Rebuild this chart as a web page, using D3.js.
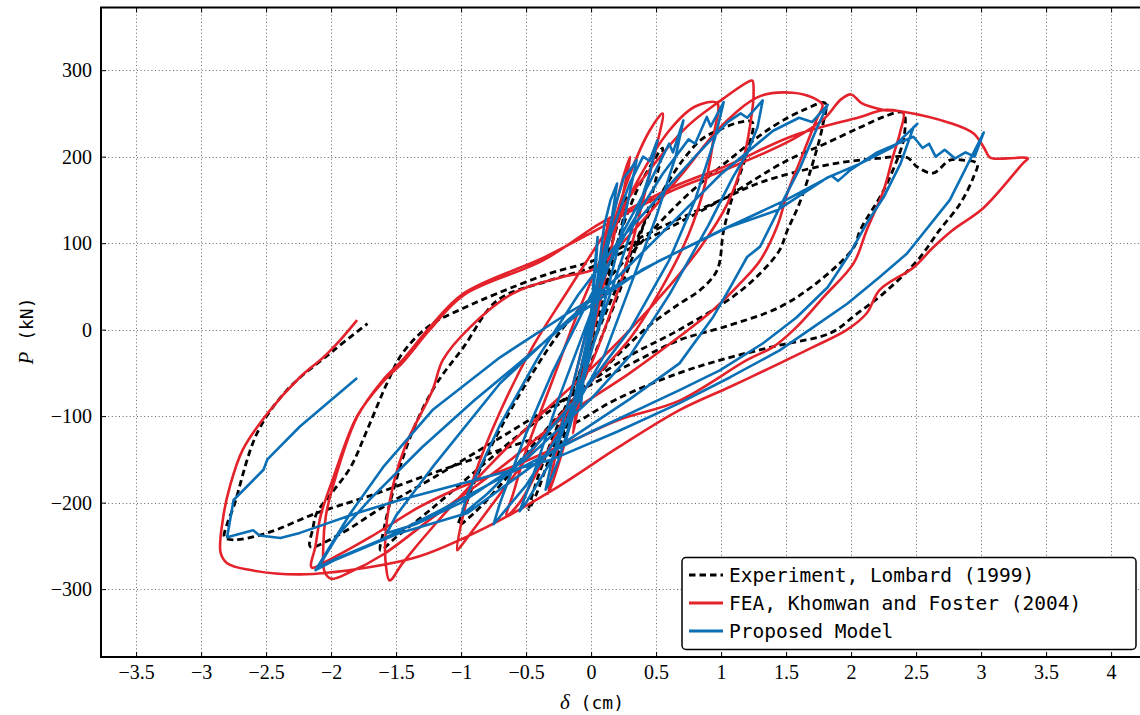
<!DOCTYPE html>
<html><head><meta charset="utf-8">
<script src="https://cdn.jsdelivr.net/npm/d3@7"></script>
<style>
html,body{margin:0;padding:0;background:#fff;overflow:hidden}
svg{display:block}
</style></head><body>
<svg id="chart" width="1140" height="715"></svg>
<script>
const xTicks = [-3.5,-3,-2.5,-2,-1.5,-1,-0.5,0,0.5,1,1.5,2,2.5,3,3.5,4];
const yTicks = [-300,-200,-100,0,100,200,300];
const seriesNames = ["Experiment, Lombard (1999)","FEA, Khomwan and Foster (2004)","Proposed Model"];

const experiment = [
[0,0],[0.05,35],[0.1,70],[0.13,95],[0.08,55],[0,5],[-0.06,-40],[-0.12,-80],[-0.08,-50],[0,0],
[0.1,65],[0.2,120],[0.28,155],[0.22,110],[0.12,50],[0,-15],[-0.12,-80],[-0.22,-130],[-0.26,-150],[-0.2,-110],[-0.08,-45],[0.05,25],[0.2,100],
[0.35,160],[0.48,195],[0.55,210],[0.5,175],[0.38,110],[0.22,45],[0.05,-20],[-0.12,-80],[-0.3,-140],[-0.42,-190],[-0.48,-208],[-0.44,-185],[-0.36,-150],[-0.2,-90],[0,-20],[0.2,50],[0.4,120],[0.55,160],[0.7,195],[0.85,220],[1.0,232],[1.15,240],[1.24,240],
[1.2,205],[1.1,160],[1.02,115],[0.97,69],[0.84,46],[0.68,30],[0.45,5],[0.2,-30],[-0.1,-75],[-0.4,-125],[-0.7,-180],[-0.9,-212],[-1.02,-226],[-0.97,-205],[-0.88,-170],[-0.7,-115],[-0.45,-50],[-0.2,5],[0.05,45],[0.35,95],[0.7,150],[1.05,195],[1.4,235],[1.65,255],[1.8,262],
[1.78,235],[1.7,190],[1.6,145],[1.51,115],[1.45,92],[1.3,65],[1.09,38],[0.68,0],[0.3,-30],[-0.1,-70],[-0.5,-115],[-0.9,-165],[-1.25,-210],[-1.5,-240],[-1.62,-255],[-1.6,-235],[-1.52,-185],[-1.38,-120],[-1.2,-65],[-0.98,-20],[-0.72,34],[-0.32,57],[0,72],[0.5,110],[1.0,150],[1.5,195],[1.8,215],[2.07,234],[2.25,246],[2.4,251],
[2.41,225],[2.38,207],[2.25,161],[2.07,115],[2.02,95],[1.76,57],[1.45,26],[1.02,3],[0.68,-12],[0.3,-40],[-0.2,-80],[-0.7,-125],[-1.2,-170],[-1.6,-205],[-1.95,-238],[-2.16,-251],[-2.14,-230],[-2.11,-212],[-1.98,-186],[-1.85,-159],[-1.72,-115],[-1.57,-62],[-1.45,-27],[-1.24,5],[-0.98,25],[-0.72,42],[-0.32,65],[0.02,80],[0.53,118],[1.0,150],[1.3,170],[1.8,190],[2.2,198],[2.43,199],[2.51,188],[2.63,181],[2.76,196],[2.86,196],[2.97,192],
[2.94,176],[2.84,146],[2.68,115],[2.51,80],[2.25,42],[2.05,19],[1.84,-4],[1.45,-18],[1.07,-32],[0.68,-50],[0.2,-80],[-0.18,-112],[-0.7,-139],[-1.22,-166],[-1.72,-193],[-2.11,-212],[-2.49,-235],[-2.75,-243],[-2.82,-240],[-2.8,-225],[-2.75,-205],[-2.57,-120],[-2.34,-70],[-1.98,-24],[-1.72,7]
];

const fea = [
[0,0],[0.05,50],[0.1,100],[0.14,130],[0.1,90],[0.02,20],[-0.05,-40],[-0.1,-90],[-0.14,-120],[-0.1,-80],[0,0],
[0.1,80],[0.2,150],[0.3,200],[0.25,160],[0.15,90],[0.05,20],[-0.08,-60],[-0.2,-130],[-0.33,-190],[-0.28,-150],[-0.15,-70],[0,20],[0.15,110],[0.3,180],[0.45,230],[0.55,250],
[0.5,210],[0.4,150],[0.28,80],[0.15,20],[0,-40],[-0.2,-100],[-0.4,-160],[-0.55,-200],[-0.65,-215],[-0.6,-190],[-0.5,-140],[-0.3,-60],[-0.1,20],[0.1,90],[0.35,170],[0.6,230],[0.8,258],[0.97,262],
[0.95,230],[0.88,170],[0.75,110],[0.55,50],[0.3,-10],[0,-60],[-0.3,-110],[-0.6,-170],[-0.85,-220],[-1.0,-250],[-1.03,-255],[-1.0,-225],[-0.9,-170],[-0.7,-95],[-0.45,-20],[-0.2,40],[0.1,110],[0.4,175],[0.74,235],[0.97,262],[1.2,286],[1.24,288],
[1.25,273],[1.24,254],[1.17,196],[1.05,146],[0.84,95],[0.6,50],[0.3,0],[0,-45],[-0.4,-100],[-0.8,-160],[-1.2,-225],[-1.45,-270],[-1.55,-290],[-1.58,-270],[-1.58,-235],[-1.52,-178],[-1.42,-131],[-1.22,-70],[-1.14,-35],[-0.93,3],[-0.6,42],[-0.22,61],[0.02,70],[0.3,110],[0.7,180],[1.0,235],[1.3,270],[1.55,274],[1.71,268],[1.78,260],
[1.74,245],[1.71,234],[1.61,196],[1.51,158],[1.43,119],[1.3,80],[1.15,54],[0.94,23],[0.68,-8],[0.3,-50],[-0.2,-100],[-0.7,-160],[-1.2,-215],[-1.6,-260],[-1.85,-280],[-2.0,-288],[-2.05,-280],[-2.06,-250],[-2.04,-215],[-1.98,-178],[-1.8,-101],[-1.6,-58],[-1.45,-35],[-1.24,3],[-0.98,42],[-0.37,83],[0.0,112],[0.28,135],[0.66,163],[1.05,186],[1.55,220],[1.8,245],[1.92,266],[2.0,272],[2.08,262],[2.25,254],[2.4,251],
[2.38,230],[2.32,199],[2.25,161],[2.12,115],[2.02,77],[1.79,38],[1.58,3],[1.4,-20],[1.2,-35],[0.68,-82],[0.22,-104],[-0.08,-124],[-0.55,-155],[-1.06,-186],[-1.32,-205],[-1.7,-240],[-2.0,-265],[-2.15,-275],[-2.12,-250],[-2.08,-215],[-1.98,-170],[-1.8,-100],[-1.6,-60],[-1.45,-38],[-1.24,0],[-0.98,40],[-0.37,80],[0.07,123],[0.3,140],[0.66,167],[1.05,190],[1.55,224],[2.07,246],[2.25,254],[2.4,252],[2.76,239],[2.94,227],[3.02,211],[3.07,199],[3.2,198],[3.32,199],[3.36,198],
[3.32,192],[3.02,141],[2.78,115],[2.63,95],[2.48,72],[2.22,46],[2.12,19],[1.97,0],[1.71,-20],[1.45,-39],[1.07,-66],[0.68,-93],[0.22,-135],[-0.29,-185],[-0.8,-228],[-1.32,-262],[-1.72,-275],[-2.24,-283],[-2.62,-278],[-2.8,-270],[-2.85,-258],[-2.83,-217],[-2.78,-182],[-2.68,-139],[-2.49,-97],[-2.24,-55],[-2.06,-32],[-1.93,-12],[-1.8,11]
];

const proposed = [
[0,0],[0.02,60],[0.05,107],[0.04,80],[0.0,20],[-0.05,-40],[-0.08,-90],[-0.06,-60],[0,0],
[0.05,60],[0.1,120],[0.15,150],[0.2,169],[0.17,140],[0.1,70],[0.0,-10],[-0.1,-80],[-0.2,-130],[-0.17,-110],[-0.1,-60],[0,10],
[0.1,90],[0.2,150],[0.25,175],[0.3,185],[0.35,196],[0.3,160],[0.2,90],[0.05,0],[-0.1,-80],[-0.25,-150],[-0.3,-170],[-0.35,-185],[-0.3,-150],[-0.15,-70],[0,20],[0.15,110],[0.3,170],[0.4,200],[0.45,195],[0.51,219],
[0.45,180],[0.3,110],[0.1,20],[-0.1,-70],[-0.3,-150],[-0.5,-200],[-0.55,-210],[-0.45,-170],[-0.25,-80],[0,20],[0.2,100],[0.45,170],[0.55,200],[0.6,215],[0.63,205],[0.71,242],
[0.65,200],[0.5,130],[0.3,50],[0.1,-30],[-0.2,-110],[-0.5,-180],[-0.75,-225],[-0.7,-200],[-0.5,-120],[-0.3,-50],[0,40],[0.3,120],[0.55,180],[0.75,220],[0.8,215],[0.89,246],[0.92,235],[1.02,263],
[0.95,220],[0.8,150],[0.6,80],[0.3,0],[0,-60],[-0.4,-130],[-0.8,-190],[-1.0,-215],[-0.95,-190],[-0.7,-110],[-0.4,-30],[-0.1,40],[0.2,100],[0.5,150],[0.8,200],[1.05,240],[1.15,250],[1.2,245],[1.32,265],
[1.28,234],[1.2,204],[1.09,176],[0.9,120],[0.6,40],[0.3,-30],[0,-80],[-0.5,-150],[-1.0,-200],[-1.35,-225],[-1.57,-235],[-1.5,-215],[-1.22,-159],[-0.7,-62],[-0.18,11],[0.2,60],[0.6,120],[1.0,180],[1.4,230],[1.6,245],[1.7,240],[1.82,260],
[1.74,234],[1.61,188],[1.48,150],[1.3,96],[1.2,84],[1.07,49],[0.94,15],[0.68,-39],[0.3,-80],[-0.2,-130],[-0.95,-212],[-1.47,-235],[-1.98,-267],[-2.12,-278],[-1.85,-212],[-1.6,-159],[-1.22,-93],[-0.7,-32],[-0.18,19],[0.53,80],[1.05,118],[1.43,138],[1.82,176],[2.07,192],[2.32,211],[2.51,238],
[2.48,234],[2.38,192],[2.25,153],[2.12,123],[1.99,88],[1.82,49],[1.58,14],[1.32,-16],[0.99,-47],[0.68,-70],[0,-118],[-0.7,-172],[-1.2,-212],[-1.6,-242],[-1.98,-266],[-2.1,-275],
[-1.95,-238],[-1.7,-196],[-1.3,-136],[-0.9,-82],[-0.5,-32],[-0.1,18],[0.4,70],[1.0,115],[1.5,150],[1.85,178],[1.9,172],[1.99,184],[2.2,205],[2.48,223],[2.55,210],[2.6,215],[2.65,200],[2.72,208],[2.8,198],[2.88,205],[2.95,200],[3.02,228],
[2.76,150],[2.43,88],[2.22,61],[1.97,30],[1.71,3],[1.45,-24],[1.07,-55],[0.68,-85],[0.2,-118],[-0.3,-150],[-0.7,-166],[-1.47,-197],[-1.8,-212],[-2.24,-235],[-2.39,-241],[-2.55,-238],[-2.6,-232],[-2.8,-240],
[-2.75,-197],[-2.52,-162],[-2.49,-150],[-2.24,-112],[-1.8,-56]
];

const svg = d3.select("#chart");
const W = 1140, H = 715;
const x = d3.scaleLinear().domain([-3.77, 4.3]).range([101, 101 + 8.07*130]);
const y = d3.scaleLinear().domain([-378.5, 372.5]).range([657, 7.5]);
const pL = x.range()[0], pR = x.range()[1], pT = y.range()[1], pB = y.range()[0];

svg.append("rect").attr("width", W).attr("height", H).attr("fill", "#fff");

// grid
const grid = svg.append("g").attr("stroke", "#666").attr("stroke-width", 1).attr("stroke-dasharray", "1,2.6");
grid.selectAll("line.vx").data(xTicks).join("line")
  .attr("x1", d => Math.round(x(d)) + 0.5).attr("x2", d => Math.round(x(d)) + 0.5)
  .attr("y1", pT).attr("y2", pB);
grid.selectAll("line.hy").data(yTicks).join("line")
  .attr("y1", d => Math.round(y(d)) + 0.5).attr("y2", d => Math.round(y(d)) + 0.5)
  .attr("x1", pL).attr("x2", pR);

// clip
svg.append("defs").append("clipPath").attr("id", "clip")
  .append("rect").attr("x", pL).attr("y", pT).attr("width", pR - pL).attr("height", pB - pT);

const plot = svg.append("g").attr("clip-path", "url(#clip)");
const smooth = d3.line().x(d => x(d[0])).y(d => y(d[1])).curve(d3.curveCatmullRom.alpha(0.5));
const straight = d3.line().x(d => x(d[0])).y(d => y(d[1]));

plot.append("path").attr("d", smooth(experiment)).attr("fill", "none")
  .attr("stroke", "#000").attr("stroke-width", 2.8).attr("stroke-dasharray", "6.5,4");
plot.append("path").attr("d", smooth(fea)).attr("fill", "none")
  .attr("stroke", "#e3222b").attr("stroke-width", 2.6).attr("stroke-linejoin", "round");
plot.append("path").attr("d", straight(proposed)).attr("fill", "none")
  .attr("stroke", "#0b6fb6").attr("stroke-width", 2.6).attr("stroke-linejoin", "round");

// axes
const fmt = d => d3.format("")(d).replace("-", "\u2212");
const tickFont = "'Liberation Serif','Times New Roman',serif";
const xAxis = d3.axisBottom(x).tickValues(xTicks).tickSize(-5).tickPadding(8).tickFormat(fmt);
const gx = svg.append("g").attr("transform", `translate(0,${pB})`).call(xAxis);
gx.select(".domain").remove();
gx.selectAll(".tick line").attr("stroke", "#000").attr("stroke-width", 1);
gx.selectAll("text").attr("font-family", tickFont).attr("font-size", 20).attr("fill", "#000");

const xTop = d3.axisTop(x).tickValues(xTicks).tickSize(-5).tickFormat("");
const gxt = svg.append("g").attr("transform", `translate(0,${pT})`).call(xTop);
gxt.select(".domain").remove();
gxt.selectAll(".tick line").attr("stroke", "#000").attr("stroke-width", 1);

const yAxis = d3.axisLeft(y).tickValues(yTicks).tickSize(-5).tickPadding(9).tickFormat(fmt);
const gy = svg.append("g").attr("transform", `translate(${pL},0)`).call(yAxis);
gy.select(".domain").remove();
gy.selectAll(".tick line").attr("stroke", "#000").attr("stroke-width", 1);
gy.selectAll("text").attr("font-family", tickFont).attr("font-size", 20).attr("fill", "#000");

// frame
svg.append("path").attr("d", `M${pR},${pT}H${pL}V${pB}H${pR}`)
  .attr("fill", "none").attr("stroke", "#000").attr("stroke-width", 2);

// axis labels
const xl = svg.append("text").attr("x", 592).attr("y", 709).attr("text-anchor", "middle").attr("fill", "#000");
xl.append("tspan").attr("font-family", tickFont).attr("font-style", "italic").attr("font-size", 21).text("\u03b4");
xl.append("tspan").attr("font-family", "'DejaVu Sans Mono',monospace").attr("font-size", 18).text(" (cm)");

const yl = svg.append("text").attr("transform", "translate(33,331) rotate(-90)").attr("text-anchor", "middle").attr("fill", "#000");
yl.append("tspan").attr("font-family", tickFont).attr("font-style", "italic").attr("font-size", 21).text("P");
yl.append("tspan").attr("font-family", "'DejaVu Sans Mono',monospace").attr("font-size", 18).text(" (kN)");

// legend
const lg = svg.append("g");
lg.append("rect").attr("x", 682).attr("y", 557.5).attr("width", 454).attr("height", 92).attr("rx", 4)
  .attr("fill", "#fff").attr("stroke", "#000").attr("stroke-width", 1.5);
const lstyles = [
  {stroke: "#000", dash: "6.5,4"},
  {stroke: "#e3222b", dash: null},
  {stroke: "#0b6fb6", dash: null}
];
seriesNames.forEach((name, i) => {
  const yy = 575 + i * 28;
  lg.append("line").attr("x1", 689).attr("x2", 723).attr("y1", yy).attr("y2", yy)
    .attr("stroke", lstyles[i].stroke).attr("stroke-width", 2.8).attr("stroke-dasharray", lstyles[i].dash);
  lg.append("text").attr("x", 729).attr("y", yy).attr("dy", "0.35em")
    .attr("font-family", "'DejaVu Sans Mono',monospace").attr("font-size", 19.5).attr("fill", "#000").text(name);
});
</script>
</body></html>
